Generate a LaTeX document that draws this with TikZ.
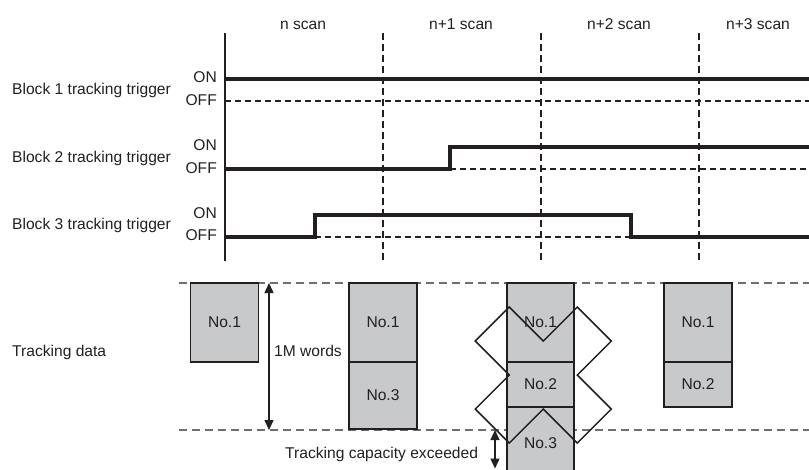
\documentclass[tikz,border=0pt]{standalone}
\usepackage{fontspec}
\setmainfont{Liberation Sans}
\usetikzlibrary{arrows.meta}
\definecolor{ink}{HTML}{231F20}
\definecolor{boxgrey}{HTML}{C8C9CB}
\definecolor{dashgrey}{HTML}{6D6E71}
\begin{document}
\begin{tikzpicture}[x=1pt,y=-1pt, font=\fontsize{15.6}{18}\selectfont, text=ink,
 sig/.style={line width=3.2pt, draw=ink, line join=miter},
 axisline/.style={line width=1.4pt, draw=ink},
 vdash/.style={line width=1.2pt, draw=ink, dash pattern=on 7pt off 4pt},
 offdash/.style={line width=1.2pt, draw=ink, dash pattern=on 6pt off 4pt},
 trkdash/.style={line width=1.5pt, draw=dashgrey, dash pattern=on 8pt off 5pt},
 blk/.style={draw=ink, fill=boxgrey, line width=1.3pt, minimum width=68pt, inner sep=0pt, anchor=center},
 dim/.style={line width=1.4pt, draw=ink, {Triangle[length=10pt,width=9pt]}-{Triangle[length=10pt,width=9pt]}},
 lbl/.style={inner sep=0pt, anchor=base west},
 lvl/.style={inner sep=0pt, anchor=base east},
 scanlbl/.style={inner sep=0pt, anchor=base},
 xmark/.style={line width=1.5pt, draw=ink, line join=miter}
]
\useasboundingbox (0,0) rectangle (809,469);
\clip (0,0) rectangle (809,469);

% scan labels
\node[scanlbl] (s0) at (303,29) {n scan};
\node[scanlbl] (s1) at (461,29) {n+1 scan};
\node[scanlbl] (s2) at (619,29) {n+2 scan};
\node[scanlbl] (s3) at (758,29) {n+3 scan};

% block labels
\node[lbl] (bl1) at (12,94.6) {Block 1 tracking trigger};
\node[lbl] (bl2) at (12,162.3) {Block 2 tracking trigger};
\node[lbl] (bl3) at (12,229) {Block 3 tracking trigger};
\node[lvl] (on1) at (217,82.3) {ON};
\node[lvl] (off1) at (217,105.7) {OFF};
\node[lvl] (on2) at (217,150.7) {ON};
\node[lvl] (off2) at (217,173) {OFF};
\node[lvl] (on3) at (217,218.3) {ON};
\node[lvl] (off3) at (217,240.7) {OFF};

% axis and scan boundaries
\coordinate (ax0) at (225,33); \coordinate (ax1) at (225,261);
\coordinate (v1a) at (383,33); \coordinate (v1b) at (383,261);
\coordinate (v2a) at (541,33); \coordinate (v2b) at (541,261);
\coordinate (v3a) at (699,33); \coordinate (v3b) at (699,261);
\draw[axisline] (ax0) -- (ax1);
\draw[vdash] (v1a) -- (v1b);
\draw[vdash] (v2a) -- (v2b);
\draw[vdash] (v3a) -- (v3b);

% block 1
\draw[offdash] (225,101) -- (809,101);
\draw[sig] (225,79) -- (810,79);
% block 2
\draw[offdash] (450,169) -- (809,169);
\draw[sig] (225,169) -- (450,169) -- (450,147) -- (810,147);
% block 3
\draw[offdash] (315,237) -- (631,237);
\draw[sig] (225,237) -- (315,237) -- (315,215) -- (631,215) -- (631,237) -- (810,237);

% tracking area
\node[lbl] (td) at (12,356) {Tracking data};
\coordinate (tl0) at (179,283); \coordinate (tl1) at (809,283);
\coordinate (bl0) at (179,430); \coordinate (bl1c) at (809,430);
\draw[trkdash] (tl0) -- (tl1);
\draw[trkdash] (bl0) -- (bl1c);

\node[blk, minimum height=79pt] (b1) at (224.5,322.5) {No.1};
\node[blk, minimum height=79pt] (b2a) at (383,322.5) {No.1};
\node[blk, minimum height=67pt] (b2b) at (383,395.5) {No.3};
\node[blk, minimum width=67pt, minimum height=79pt] (c1) at (540.5,322.5) {No.1};
\node[blk, minimum width=67pt, minimum height=45pt] (c2) at (540.5,384.5) {No.2};
\node[blk, minimum width=67pt, minimum height=72pt] (c3) at (540.5,443) {No.3};
\node[blk, minimum height=79pt] (d1) at (698,322.5) {No.1};
\node[blk, minimum height=45pt] (d2) at (698,384.5) {No.2};

% cross over the overflowing column
\draw[xmark] (509.3,307) -- (543.3,341) -- (577.3,307) -- (611.3,341) -- (577.3,375)
  -- (611.3,409) -- (577.3,443) -- (543.3,409) -- (509.3,443) -- (475.3,409)
  -- (509.3,375) -- (475.3,341) -- cycle;

% dimension arrows
\coordinate (m0) at (269,283); \coordinate (m1) at (269,430);
\draw[dim] (m0) -- (m1);
\node[lbl] (mw) at (274,356) {1M words};
\coordinate (e0) at (495,430); \coordinate (e1) at (495,468.5);
\draw[dim] (e0) -- (e1);
\node[lbl] (cap) at (285,458) {Tracking capacity exceeded};
\end{tikzpicture}
\end{document}
